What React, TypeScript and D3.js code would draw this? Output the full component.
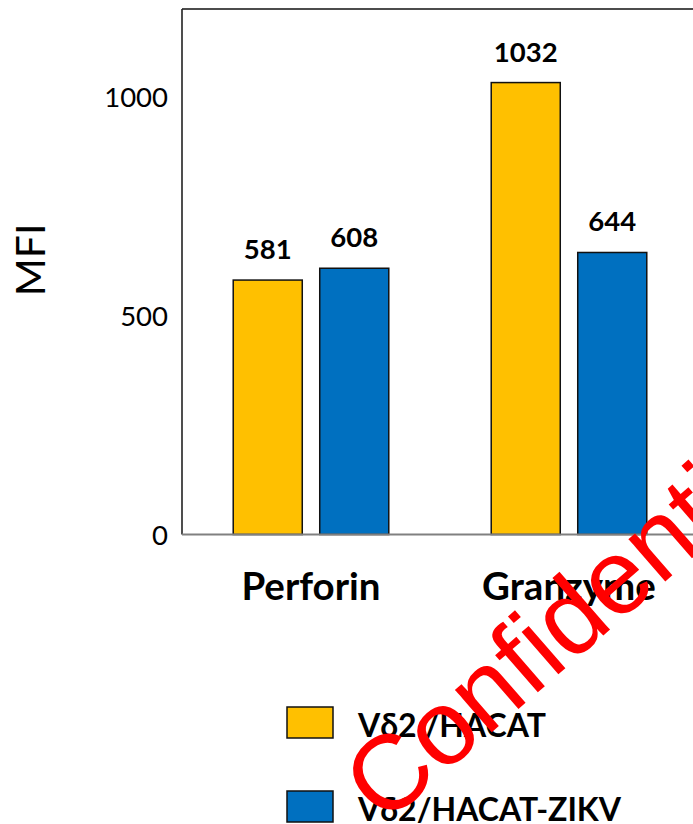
import React from "react";
import * as d3 from "d3";

// Chart data
const categories = ["Perforin", "Granzyme"];
const seriesNames = ["Vδ2 /HACAT", "Vδ2/HACAT-ZIKV"];
const hacatValues = [581, 1032];
const zikvValues = [608, 644];
const yTicks = [0, 500, 1000];
const seriesColors = ["#FFC000", "#0070C0"];

const W = 693;
const H = 824;
const plotLeft = 182;
const plotTop = 9;
const plotBottom = 534.5;
const font = "Lato, 'Open Sans', sans-serif";

export default function App() {
  const y = d3.scaleLinear().domain([0, 1200]).range([plotBottom, plotTop]);
  const x = d3.scaleBand<string>().domain(categories).range([plotLeft, plotLeft + 516]);
  const xSub = d3
    .scaleBand<string>()
    .domain(seriesNames)
    .range([0, x.bandwidth()])
    .paddingInner(0.202)
    .paddingOuter(0.592);

  const valuesBySeries = [hacatValues, zikvValues];
  const legendY = d3.scalePoint<string>().domain(seriesNames).range([707, 791]);

  return (
    <div style={{ position: "fixed", left: 0, top: 0 }}>
      <svg width={W} height={H} style={{ display: "block", background: "#fff" }}>
        {/* plot frame */}
        <line x1={plotLeft} x2={W + 10} y1={plotTop} y2={plotTop} stroke="#111" strokeWidth={1.6} />
        <line x1={plotLeft} x2={plotLeft} y1={plotTop} y2={plotBottom} stroke="#222" strokeWidth={1.6} />

        {/* y tick labels */}
        {yTicks.map((t) => (
          <text
            key={t}
            x={168}
            y={y(t) + 1}
            dy="0.36em"
            textAnchor="end"
            fontFamily={font}
            fontSize={27.5}
            fill="#000"
          >
            {t}
          </text>
        ))}

        {/* y axis title */}
        <text
          transform={`translate(45,260) rotate(-90)`}
          textAnchor="middle"
          fontFamily={font}
          fontSize={41}
          fill="#000"
        >
          MFI
        </text>

        {/* bars */}
        {categories.map((c, ci) =>
          seriesNames.map((s, si) => {
            const v = valuesBySeries[si][ci];
            const bx = (x(c) as number) + (xSub(s) as number);
            const bw = xSub.bandwidth();
            return (
              <g key={c + s}>
                <rect
                  x={bx}
                  y={y(v)}
                  width={bw}
                  height={y(0) - y(v)}
                  fill={seriesColors[si]}
                  stroke="#111"
                  strokeWidth={1.5}
                />
                <text
                  x={bx + bw / 2}
                  y={y(v) - 21}
                  textAnchor="middle"
                  fontFamily={font}
                  fontWeight="bold"
                  fontSize={27.5}
                  fill="#000"
                >
                  {v}
                </text>
              </g>
            );
          })
        )}

        {/* x axis baseline */}
        <line x1={plotLeft} x2={W + 10} y1={plotBottom} y2={plotBottom} stroke="#808080" strokeWidth={2} />

        {/* category labels */}
        {categories.map((c) => (
          <text
            key={c}
            x={(x(c) as number) + x.bandwidth() / 2}
            y={600}
            textAnchor="middle"
            fontFamily={font}
            fontWeight="bold"
            fontSize={38.5}
            fill="#000"
          >
            {c}
          </text>
        ))}

        {/* legend */}
        {seriesNames.map((s, si) => (
          <g key={s} transform={`translate(287,${legendY(s)})`}>
            <rect width={46} height={31} fill={seriesColors[si]} stroke="#111" strokeWidth={1.5} />
            <text x={71} y={30} fontFamily={font} fontWeight="bold" fontSize={32} fill="#000">
              {s}
            </text>
          </g>
        ))}

        {/* watermark */}
        <text
          transform="translate(384,826) rotate(-41)"
          fontFamily="'Liberation Sans', Arial, sans-serif"
          fontSize={106}
          fill="#FF0000"
        >
          Confidential
        </text>
      </svg>
    </div>
  );
}
